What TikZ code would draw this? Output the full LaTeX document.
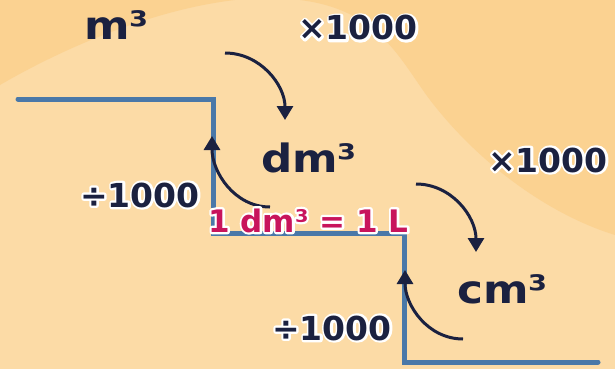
\documentclass[tikz,border=0pt]{standalone}
\usepackage{fontspec}
\setmainfont{DejaVu Sans}
\usepackage{graphicx}
\usetikzlibrary{arrows.meta}
\definecolor{bglight}{HTML}{FCDBA6}
\definecolor{bgdark}{HTML}{FBD291}
\definecolor{stairblue}{HTML}{4A78A8}
\definecolor{ink}{HTML}{1B2140}
\definecolor{mag}{HTML}{C8145C}
\newcommand{\halo}[1]{\leavevmode\rlap{\special{pdf:literal direct 1 Tr 4.5 w 1 j 1 1 1 RG}#1\special{pdf:literal direct 0 Tr}}#1}
\tikzset{
  stair/.style={draw=stairblue,line width=5pt,line cap=round,line join=miter},
  arr/.style={draw=ink,line width=3pt,-{Triangle[length=14pt,width=16pt]}},
  unit/.style={inner sep=0pt,anchor=base west,text=ink,font=\fontsize{39}{39}\selectfont\bfseries},
  factor/.style={inner sep=0pt,anchor=base west,text=ink,font=\fontsize{33}{33}\selectfont\bfseries},
  eqlabel/.style={inner sep=0pt,anchor=base west,text=mag,font=\fontsize{31}{31}\selectfont\bfseries}
}
\begin{document}
\begin{tikzpicture}[x=1pt,y=-1pt]
\useasboundingbox (0,0) rectangle (615,369);
\fill[bglight] (0,0) rectangle (615,369);
\fill[bgdark] (0,0) -- (0,85) .. controls (60,50) and (150,10) .. (235,0) -- cycle;
\fill[bgdark] (300,0) .. controls (380,10) and (400,60) .. (430,100) .. controls (480,165) and (550,215) .. (615,235) -- (615,0) -- cycle;
% staircase
\coordinate (s0) at (18,99);
\coordinate (s1) at (213,233);
\coordinate (s2) at (404,362);
\coordinate (s3) at (598,362);
\draw[stair] (s0) -| (s1) -| (s2) -- (s3);
% arrows
\coordinate (d1s) at (225,53);
\coordinate (d1e) at (285,120);
\coordinate (d2s) at (416,184);
\coordinate (d2e) at (476,252);
\coordinate (u1s) at (270,207);
\coordinate (u1e) at (212,136);
\coordinate (u2s) at (463,339);
\coordinate (u2e) at (405,270);
\draw[arr] (d1s) to[out=0,in=90] (d1e);
\draw[arr] (d2s) to[out=0,in=90] (d2e);
\draw[arr] (u1s) to[out=180,in=-90] (u1e);
\draw[arr] (u2s) to[out=180,in=-90] (u2e);
% labels
\node[unit] (m) at (84,40) {\scalebox{1.12}[1]{m³}};
\node[unit] (dm) at (261,172) {\scalebox{1.12}[1]{dm³}};
\node[unit] (cm) at (457,303) {\scalebox{1.12}[1]{cm³}};
\node[factor] (x1) at (298,40) {\halo{×1000}};
\node[factor] (x2) at (488,172) {\halo{×1000}};
\node[factor] (q1) at (80,207) {\halo{÷1000}};
\node[factor] (q2) at (272,340) {\halo{÷1000}};
\node[eqlabel] (eq) at (208,232) {\halo{1 dm³ = 1 L}};
\end{tikzpicture}
\end{document}
